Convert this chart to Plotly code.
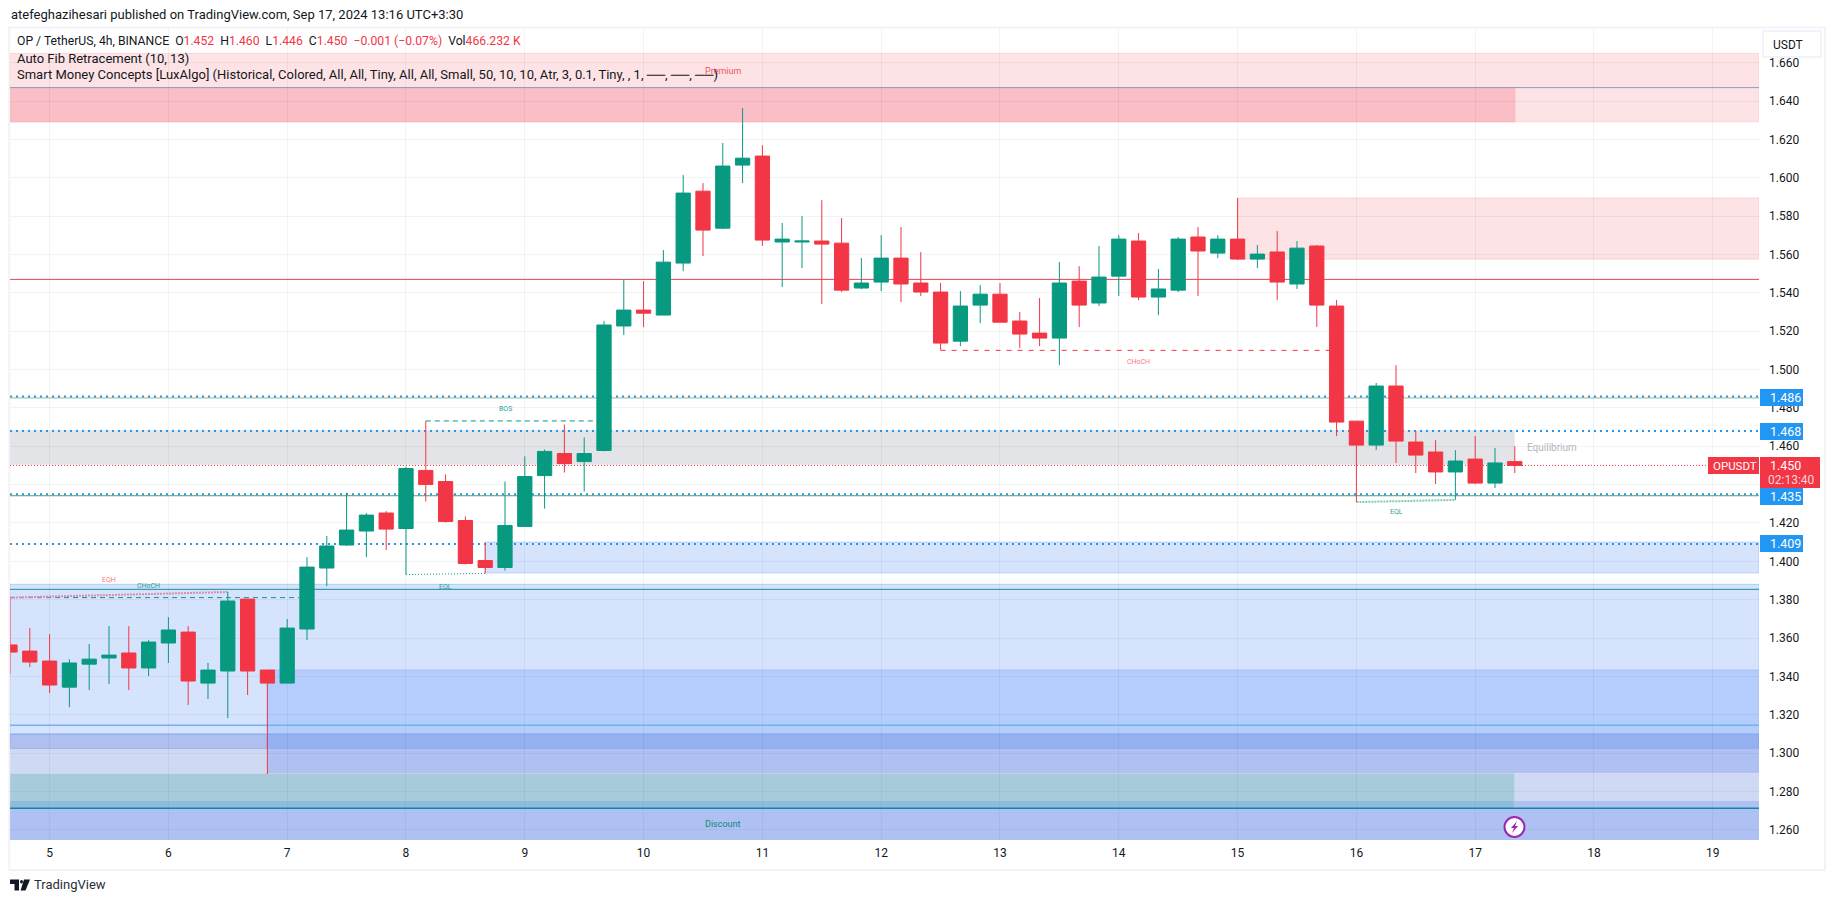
import plotly.graph_objects as go

# ---- data ----
days = [4 + 4/6 + i/6 for i in range(77)]
opens = [1.3564,1.3532,1.3480,1.3344,1.3464,1.3496,1.3522,1.3444,1.3574,1.3631,1.3365,1.3428,1.3803,1.3433,1.3365,1.3647,1.3965,1.4085,1.4158,1.4252,
         1.4171,1.4474,1.4416,1.4213,1.4004,1.3968,1.4182,1.4447,1.4562,1.4520,1.4578,1.5227,1.5310,1.5284,1.5555,1.5930,1.5737,1.6066,1.6113,1.5665,
         1.5665,1.5670,1.5659,1.5425,1.5456,1.5581,1.5451,1.5404,1.5148,1.5336,1.5393,1.5253,1.5190,1.5164,1.5461,1.5347,1.5487,1.5670,1.5378,1.5414,
         1.5691,1.5607,1.5680,1.5576,1.5613,1.5446,1.5644,1.5331,1.4731,1.4606,1.4914,1.4622,1.4570,1.4466,1.4533,1.4408,1.452]
highs = [1.3811,1.3652,1.3621,1.3490,1.3569,1.3662,1.3662,1.3589,1.3709,1.3662,1.3470,1.3840,1.3803,1.3433,1.3699,1.4022,1.4132,1.4358,1.4252,1.4262,
         1.4494,1.4732,1.4453,1.4234,1.4098,1.4416,1.4547,1.4583,1.4713,1.4646,1.5253,1.5470,1.5461,1.5623,1.6014,1.5972,1.6181,1.6363,1.6170,1.5764,
         1.5800,1.5883,1.5790,1.5581,1.5701,1.5743,1.5612,1.5451,1.5409,1.5440,1.5451,1.5300,1.5373,1.5560,1.5539,1.5644,1.5701,1.5712,1.5524,1.5691,
         1.5743,1.5701,1.5894,1.5649,1.5722,1.5670,1.5649,1.5362,1.4731,1.4930,1.5023,1.4679,1.4632,1.4580,1.4653,1.4591,1.460]
lows = [1.3413,1.3449,1.3313,1.3240,1.3329,1.3360,1.3329,1.3402,1.3470,1.3251,1.3282,1.3183,1.3303,1.2891,1.3365,1.3589,1.3871,1.4080,1.4022,1.4059,
        1.3931,1.4312,1.4202,1.3983,1.3937,1.3952,1.4182,1.4275,1.4463,1.4364,1.4573,1.5180,1.5221,1.5284,1.5513,1.5592,1.5732,1.5972,1.5644,1.5430,
        1.5529,1.5341,1.5404,1.5419,1.5409,1.5352,1.5383,1.5101,1.5122,1.5242,1.5247,1.5112,1.5122,1.5023,1.5221,1.5331,1.5383,1.5362,1.5284,1.5404,
        1.5383,1.5581,1.5571,1.5529,1.5362,1.5420,1.5222,1.4653,1.4309,1.4580,1.4513,1.4460,1.4403,1.4320,1.4403,1.4382,1.446]
closes = [1.3527,1.3475,1.3355,1.3470,1.3490,1.3511,1.3444,1.3579,1.3642,1.3376,1.3433,1.3793,1.3428,1.3365,1.3652,1.3970,1.4080,1.4163,1.4241,1.4168,
          1.4484,1.4401,1.4208,1.3989,1.3968,1.4187,1.4442,1.4573,1.4510,1.4562,1.5232,1.5310,1.5294,1.5560,1.5920,1.5727,1.6061,1.6102,1.5675,1.5680,
          1.5670,1.5654,1.5414,1.5451,1.5581,1.5446,1.5404,1.5138,1.5331,1.5393,1.5247,1.5185,1.5164,1.5451,1.5336,1.5482,1.5680,1.5378,1.5420,1.5680,
          1.5618,1.5680,1.5576,1.5602,1.5456,1.5633,1.5336,1.4726,1.4606,1.4914,1.4627,1.4554,1.4466,1.4523,1.4408,1.4513,1.450]

day_ticks = list(range(5, 20))
price_ticks = [round(1.26 + 0.02 * i, 2) for i in range(21)]

level_red = 1.547
level_blue_fib = [1.486, 1.468, 1.435, 1.409]
level_last = 1.450
level_top = 1.647
level_mid_teal = 1.3854
level_low_teal = 1.2712
level_sky = 1.3145

premium = (1.6648, 1.6292)
premium_dark = (1.647, 1.6292)
supply = (1.5894, 1.5576)
equilibrium = (1.4684, 1.4503)
demand_a = (1.4100, 1.3940)
demand_b = (1.3880, 1.3099)
demand_c = (1.3433, 1.3099)
band_dark = (1.3099, 1.3023)
lav = (1.3023, 1.2894)
teal_z = (1.2894, 1.2750)
teal_z2 = (1.2750, 1.2712)
RIGHT_X = 19.389
LEFT_X = 4.6667
FULL_END = 17.333
BOX_START = 6.833

L, R, T, B = 10, 1759, 27, 840
W, H = 1835, 903
def PX(px): return (px - L) / (R - L)
def PY(py): return (B - py) / (B - T)

GREEN = "#089981"
RED = "#f23645"
BLUE = "#2196f3"
TXT = "#131722"
FONT = "Roboto"

shapes = []
def rect(x0, x1, band, fill, line=None, layer="below"):
    shapes.append(dict(type="rect", xref="x", yref="y", x0=x0, x1=x1, y0=band[0], y1=band[1],
                       fillcolor=fill, line=dict(width=1 if line else 0, color=line or fill), layer=layer))
def hline(y, color, width=1, dash="solid", x0=LEFT_X, x1=RIGHT_X):
    shapes.append(dict(type="line", xref="x", yref="y", x0=x0, x1=x1, y0=y, y1=y,
                       line=dict(color=color, width=width, dash=dash), layer="between"))
def seg(x0, y0, x1, y1, color, width=1, dash="solid"):
    shapes.append(dict(type="line", xref="x", yref="y", x0=x0, x1=x1, y0=y0, y1=y1,
                       line=dict(color=color, width=width, dash=dash), layer="between"))

# zones (opaque colours reproduce the blended overlaps)
rect(LEFT_X, RIGHT_X, premium, "#fde3e5", "#fbd5d8")
rect(LEFT_X, FULL_END, premium_dark, "#fabfc6", "#f9b4bb")
rect(15, RIGHT_X, supply, "#fde3e5", "#f9cfd3")
rect(LEFT_X, FULL_END, equilibrium, "#e3e4e7")
rect(8.667, RIGHT_X, demand_a, "#d5e3fd", "#b3ccf8")
rect(LEFT_X, RIGHT_X, demand_b, "#d5e3fd", "#b3ccf8")
rect(BOX_START, RIGHT_X, demand_c, "#b5cdfc", "#a4c0f7")
rect(LEFT_X, BOX_START, band_dark, "#afc0f0", "#7fa0ee")
rect(BOX_START, RIGHT_X, band_dark, "#95b1f0", "#7fa0ee")
rect(LEFT_X, BOX_START, lav, "#d0d9f4")
rect(BOX_START, RIGHT_X, lav, "#aec1f2")
rect(LEFT_X, FULL_END, teal_z, "#a8cbdc")
rect(FULL_END, RIGHT_X, teal_z, "#d0d9f4")
rect(LEFT_X, FULL_END, teal_z2, "#8fbbdc")
rect(FULL_END, RIGHT_X, teal_z2, "#aec1f2")
rect(LEFT_X, RIGHT_X, (1.2712, 1.2500), "#aec1f2")

# levels
hline(level_red, "#ef4350")
hline(level_top, "#8a9cc4")
hline(1.4852, "#9bb58f")
hline(1.4342, "#4f9d5f")
for lv in level_blue_fib:
    hline(lv, BLUE, 2, "2px,4px")
hline(level_last, RED, 1, "1px,2px")
hline(level_mid_teal, "#17908f")
hline(level_low_teal, "#0f87a5", 1.5)
hline(level_sky, "#6fb3ea", 1.5)

# structure lines
seg(LEFT_X, 1.3811, 7.1, 1.3811, "#1d8f8f", 1, "5px,4px")
seg(LEFT_X, 1.3811, 6.5, 1.3840, "#d98db0", 2, "2px,1px")
seg(8.167, 1.4732, 9.6, 1.4732, GREEN, 1, "5px,4px")
seg(8.0, 1.3931, 8.667, 1.3937, GREEN, 1, "1px,2px")
seg(12.5, 1.5100, 15.8, 1.5100, RED, 1, "5px,6px")
seg(16.0, 1.4309, 16.833, 1.4320, "#7fcab9", 2, "2px,1px")

ann = []
def text(px, py, s, size=12, color=TXT, anchor="left", family=FONT):
    ann.append(dict(xref="paper", yref="paper", x=PX(px), y=PY(py), text=s, showarrow=False,
                    xanchor=anchor, yanchor="middle", align=anchor,
                    font=dict(family=family, size=size, color=color)))

# chart labels
text(723, 71, "Premium", 9, "#f4505f", "center")
text(723, 824, "Discount", 9, "#0c8a78", "center")
text(109, 579.5, "EQH", 7, "#f77c80", "center")
text(148, 585.5, "CHoCH", 7, "#2e9f96", "center")
text(445.5, 586.5, "EQL", 7, "#2e9f96", "center")
text(505, 408.5, "BOS", 7, "#2e9f96", "center")
text(1138, 362, "CHoCH", 7, "#f77c80", "center")
text(1396, 511.5, "EQL", 7, "#2e9f96", "center")
text(1525, 447.5, "Equilibrium", 10, "#b2b5be")

# header and legend
text(9, 15, "atefeghazihesari published on TradingView.com, Sep 17, 2024 13:16 UTC+3:30", 13)
v = lambda s: f'<span style="color:{RED}">{s}</span>'
text(15, 41.5, "OP / TetherUS, 4h, BINANCE  O" + v("1.452") + "  H" + v("1.460") + "  L" + v("1.446") + "  C" + v("1.450")
     + "  " + v("−0.001 (−0.07%)") + "  Vol" + v("466.232 K"), 12.2)
text(15, 58.5, "Auto Fib Retracement (10, 13)", 13)
text(15, 75, "Smart Money Concepts [LuxAlgo] (Historical, Colored, All, All, Tiny, All, All, Small, 50, 10, 10, Atr, 3, 0.1, Tiny, , 1, ──, ──, ──)", 13)

# outer frame
shapes.append(dict(type="rect", xref="paper", yref="paper", x0=PX(9.3), x1=PX(1825), y0=PY(870), y1=PY(27.5),
                   line=dict(color="#f0f0f5", width=1.6), fillcolor="rgba(0,0,0,0)", layer="above"))

# unit box
shapes.append(dict(type="path", xref="paper", yref="paper", layer="above",
                   path=f"M {PX(1765)} {PY(31)} L {PX(1819)} {PY(31)} Q {PX(1821)} {PY(31)} {PX(1821)} {PY(33)} "
                        f"L {PX(1821)} {PY(55)} Q {PX(1821)} {PY(57)} {PX(1819)} {PY(57)} L {PX(1765)} {PY(57)} "
                        f"Q {PX(1763)} {PY(57)} {PX(1763)} {PY(55)} L {PX(1763)} {PY(33)} Q {PX(1763)} {PY(31)} {PX(1765)} {PY(31)} Z",
                   fillcolor="#ffffff", line=dict(color="#f0f3fa", width=2)))
text(1771, 44.5, "USDT", 12)

# price tags
def tag(x0, x1, y0, y1, fill):
    shapes.append(dict(type="rect", xref="paper", yref="paper", x0=PX(x0), x1=PX(x1), y0=PY(y1), y1=PY(y0),
                       fillcolor=fill, line=dict(width=0), layer="above"))
for lab, cy in [("1.486", 397.5), ("1.468", 431.5), ("1.435", 496.5), ("1.409", 543.5)]:
    tag(1760, 1803, cy - 8.5, cy + 8.5, BLUE)
    text(1767.5, cy, lab, 12.5, "#ffffff")
tag(1760, 1820, 457, 488, RED)
tag(1708, 1759, 457, 474, RED)
text(1767.5, 465.5, "1.450", 12.5, "#ffffff")
text(1766, 479.5, "02:13:40", 12, "#fbd5d9")
text(1710.5, 465.5, "OPUSDT", 11.5, "#ffffff")

# lightning badge
cx, cy = 1514.5, 827.0
shapes.append(dict(type="circle", xref="paper", yref="paper", x0=PX(cx-10), x1=PX(cx+10), y0=PY(cy+10), y1=PY(cy-10),
                   fillcolor="#ffffff", line=dict(color="#9c27b0", width=2), layer="above"))
bolt = [(2.5,-6),(-3.5,1),(-0.5,1),(-2.5,6),(3.5,-1),(0.5,-1)]
shapes.append(dict(type="path", xref="paper", yref="paper", layer="above", fillcolor="#9c27b0", line=dict(width=0),
                   path="M " + " L ".join(f"{PX(cx+a)} {PY(cy+b)}" for a, b in bolt) + " Z"))

# TradingView logo
def logo_path(pts):
    return "M " + " L ".join(f"{PX(a)} {PY(b)}" for a, b in pts) + " Z"
shapes.append(dict(type="path", xref="paper", yref="paper", layer="above", fillcolor="#131722", line=dict(width=0),
                   path=logo_path([(10,879.5),(19,879.5),(19,890.5),(14.5,890.5),(14.5,884),(10,884)])))
shapes.append(dict(type="circle", xref="paper", yref="paper", layer="above", fillcolor="#131722", line=dict(width=0),
                   x0=PX(20), x1=PX(23), y0=PY(883.5), y1=PY(880)))
shapes.append(dict(type="path", xref="paper", yref="paper", layer="above", fillcolor="#131722", line=dict(width=0),
                   path=logo_path([(24,879.5),(30,879.5),(25.5,890.5),(20.5,890.5)])))
text(32, 885, "TradingView", 13, "#2a2e39")

fig = go.Figure(go.Candlestick(
    x=days, open=opens, high=highs, low=lows, close=closes,
    increasing=dict(line=dict(color=GREEN, width=1), fillcolor=GREEN),
    decreasing=dict(line=dict(color=RED, width=1), fillcolor=RED),
    whiskerwidth=0, showlegend=False, hoverinfo="skip",
))

GRID = "rgba(42,46,57,0.06)"
fig.update_layout(
    width=W, height=H, autosize=False,
    margin=dict(l=L, r=W - R, t=T, b=H - B, pad=0),
    paper_bgcolor="#ffffff", plot_bgcolor="#ffffff",
    boxgap=0.28, boxgroupgap=0,
    shapes=shapes, annotations=ann, showlegend=False,
    font=dict(family=FONT, color=TXT),
    xaxis=dict(range=[LEFT_X, RIGHT_X], tickmode="array", tickvals=day_ticks, ticktext=[str(d) for d in day_ticks],
               showgrid=True, gridcolor=GRID, gridwidth=1, zeroline=False, showline=False, ticks="",
               tickfont=dict(family=FONT, size=12, color=TXT), rangeslider=dict(visible=False), ticklabelstandoff=4),
    yaxis=dict(range=[1.2547, 1.6786], side="right", tickmode="array", tickvals=price_ticks,
               ticktext=[f"{t:.3f}" for t in price_ticks], showgrid=True, gridcolor=GRID, gridwidth=1,
               zeroline=False, showline=False, ticks="", ticklabelstandoff=9,
               tickfont=dict(family=FONT, size=12, color=TXT)),
)

fig.write_html("out.html", config=dict(displayModeBar=False),
               post_script="document.body.style.margin='0';document.documentElement.style.overflow='hidden';")
